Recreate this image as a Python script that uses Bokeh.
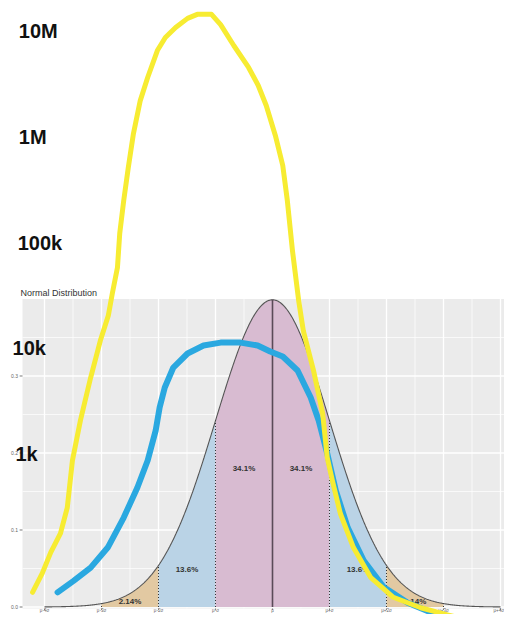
import numpy as np
from bokeh.plotting import figure
from bokeh.models import Range1d, LogScale
from bokeh.core.properties import value
from bokeh.embed import file_html
from bokeh.resources import INLINE

# ---------------- data ----------------
title_text = "Normal Distribution"
mu = 0.0
sigma = 1.0
sigma_ticks = [-4, -3, -2, -1, 0, 1, 2, 3, 4]
sigma_tick_labels = ["μ-4σ", "μ-3σ", "μ-2σ", "μ-σ", "μ", "μ+σ", "μ+2σ", "μ+3σ", "μ+4σ"]
density_ticks = [0.0, 0.1, 0.2, 0.3]
density_tick_labels = ["0.0", "0.1", "0.2", "0.3"]
band_edges = [-3, -2, -1, 0, 1, 2, 3]
band_labels = ["2.14%", "13.6%", "34.1%", "34.1%", "13.6%", "2.14%"]

count_labels = ["10M", "1M", "100k", "10k", "1k"]
count_values = [1e7, 1e6, 1e5, 1e4, 1e3]

yellow_x = [-4.21, -4.04, -3.89, -3.72, -3.60, -3.51, -3.37, -3.19, -3.02, -2.88,
            -2.81, -2.72, -2.68, -2.61, -2.53, -2.44, -2.32, -2.19, -2.02, -1.88,
            -1.70, -1.49, -1.32, -1.07, -0.91, -0.68, -0.42, -0.25, -0.11, 0.05,
            0.18, 0.26, 0.35, 0.46, 0.54, 0.72, 0.88, 0.96, 1.05, 1.19,
            1.42, 1.72, 2.12, 2.60, 3.07, 3.53, 4.00]
yellow_counts = [49, 74, 117, 177, 311, 866, 2070, 5280, 11800, 20400,
                 33000, 58000, 122000, 250000, 512000, 1070000, 2200000, 3640000, 6550000, 8690000,
                 10800000, 13200000, 14400000, 14400000, 11500000, 7310000, 4530000, 3060000, 1980000, 1030000,
                 535000, 250000, 84000, 28000, 14700, 6150, 2410, 925, 560, 273,
                 130, 68, 44, 35, 30, 26, 24]

blue_x = [-3.77, -3.49, -3.19, -2.89, -2.61, -2.37, -2.19, -2.05, -1.98, -1.89,
          -1.74, -1.49, -1.21, -0.91, -0.56, -0.26, -0.04, 0.18, 0.44, 0.67,
          0.81, 0.96, 1.11, 1.32, 1.60, 1.95, 2.37, 2.82, 3.30, 3.88, 4.14]
blue_counts = [49, 63, 84, 130, 250, 481, 866, 1660, 2750, 4250,
               6560, 8910, 10600, 11300, 11300, 10600, 9310, 8340, 6150, 3420,
               2070, 1010, 451, 201, 98, 55, 39, 31, 27, 25, 28]

# ---------------- style / layout ----------------
band_colors = ["#E2C9A2", "#BAD3E6", "#D8BBD1", "#D8BBD1", "#BAD3E6", "#E2C9A2"]
band_label_y = [0.007, 0.049, 0.18, 0.18, 0.049, 0.007]
panel_left = -4.386
panel_bottom = -0.002
panel_top = 0.4
count_label_x = [-4.45, -4.45, -4.47, -4.56, -4.51]
FONT = value("Liberation Sans")

p = figure(width=504, height=614, output_backend="svg", toolbar_location=None,
           x_range=Range1d(-4.7719, 4.0702), y_range=Range1d(-0.00974, 0.78766),
           x_axis_location=None, y_axis_location=None, min_border=0)
p.extra_y_ranges = {"log": Range1d(30.24, 1.948e7)}
p.extra_y_scales = {"log": LogScale()}
p.outline_line_color = None
p.background_fill_color = "white"
p.border_fill_color = "white"
for g in p.grid:
    g.visible = False

x_right = p.x_range.end

# grey panel
p.quad(left=[panel_left], right=[x_right], bottom=[panel_bottom], top=[panel_top],
       fill_color="#EBEBEB", line_color=None)

# grid lines
minor_x = [t + 0.5 for t in sigma_ticks if panel_left < t + 0.5 < x_right]
p.segment(x0=minor_x, x1=minor_x, y0=[panel_bottom] * len(minor_x), y1=[panel_top] * len(minor_x),
          line_color="white", line_width=0.7)
minor_y = [t + 0.05 for t in density_ticks]
p.segment(x0=[panel_left] * len(minor_y), x1=[x_right] * len(minor_y), y0=minor_y, y1=minor_y,
          line_color="white", line_width=0.7)
major_x = [t for t in sigma_ticks if panel_left < t < x_right]
p.segment(x0=major_x, x1=major_x, y0=[panel_bottom] * len(major_x), y1=[panel_top] * len(major_x),
          line_color="white", line_width=1.3)
p.segment(x0=[panel_left] * len(density_ticks), x1=[x_right] * len(density_ticks),
          y0=density_ticks, y1=density_ticks, line_color="white", line_width=1.3)


def pdf(x):
    x = np.asarray(x, dtype=float)
    return np.exp(-0.5 * ((x - mu) / sigma) ** 2) / (sigma * np.sqrt(2 * np.pi))


# shaded bands
for i in range(len(band_labels)):
    xs = np.linspace(band_edges[i], band_edges[i + 1], 120)
    p.varea(x=xs, y1=np.zeros_like(xs), y2=pdf(xs), fill_color=band_colors[i])

# density curve
xc = np.linspace(-4, 4, 801)
p.line(xc, pdf(xc), line_color="#555555", line_width=1.1)

# dotted sigma lines and mean line
dx = [e for e in band_edges if e != 0]
p.segment(x0=dx, x1=dx, y0=[0] * len(dx), y1=list(pdf(dx)), line_color="#333333",
          line_width=1, line_dash="1 2")
p.segment(x0=[mu], x1=[mu], y0=[0], y1=[float(pdf(mu))], line_color="#5A4A58", line_width=1.6)

# band labels
mids = [(band_edges[i] + band_edges[i + 1]) / 2 for i in range(len(band_labels))]
p.text(x=mids, y=band_label_y, text=band_labels, text_font=FONT, text_font_style="bold",
       text_font_size="8px", text_color="#333333", text_align="center", text_baseline="middle")

# axes ticks / labels (drawn)
p.segment(x0=sigma_ticks, x1=sigma_ticks, y0=[panel_bottom] * 9, y1=[panel_bottom - 0.0018] * 9,
          line_color="#555555", line_width=0.8)
p.text(x=sigma_ticks[:-1], y=[-0.0045] * 8, text=sigma_tick_labels[:-1], text_font=FONT,
       text_font_size="4.5px", text_color="#666666", text_align="center", text_baseline="middle")
p.text(x=[x_right - 0.01], y=[-0.0045], text=sigma_tick_labels[-1:], text_font=FONT,
       text_font_size="4.5px", text_color="#666666", text_align="right", text_baseline="middle")
p.segment(x0=[panel_left - 0.05] * 4, x1=[panel_left] * 4, y0=density_ticks, y1=density_ticks,
          line_color="#555555", line_width=0.8)
p.text(x=[panel_left - 0.08] * 4, y=density_ticks, text=density_tick_labels, text_font=FONT,
       text_font_size="5px", text_color="#666666", text_align="right", text_baseline="middle")

# title
p.text(x=[-4.42], y=[0.408], text=[title_text], text_font=FONT, text_font_size="9px",
       text_color="#333333", text_align="left", text_baseline="middle")

# overlay curves (log scale)
p.line(blue_x, blue_counts, y_range_name="log", line_color="#2AA8E0", line_width=6,
       line_cap="round", line_join="round")
p.line(yellow_x, yellow_counts, y_range_name="log", line_color="#F7EC32", line_width=5,
       line_cap="round", line_join="round")

# count labels
p.text(x=count_label_x, y=count_values, text=count_labels, y_range_name="log", text_font=FONT,
       text_font_style="bold", text_font_size="20px", text_color="#111111",
       text_align="left", text_baseline="middle")

open("out.html", "w").write(file_html(p, INLINE))
